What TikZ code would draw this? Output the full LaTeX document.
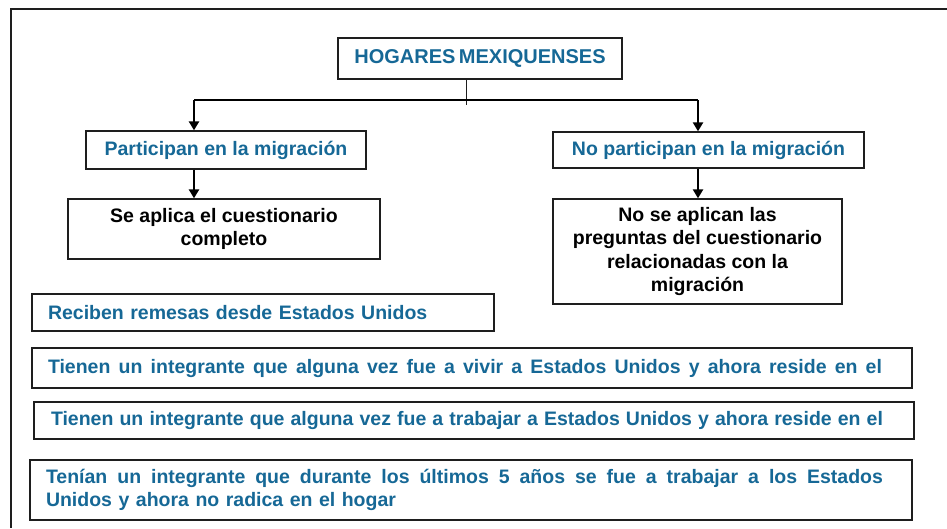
\documentclass[tikz,border=0pt]{standalone}
\usepackage{fontspec}
\setmainfont{Liberation Sans}
\usetikzlibrary{arrows.meta}
\definecolor{tblue}{RGB}{22,104,150}
\definecolor{lgray}{RGB}{30,30,30}
\begin{document}
\begin{tikzpicture}[x=1pt,y=-1pt,
  box/.style={draw=lgray,line width=1.3pt,rectangle,inner sep=0pt,font=\fontsize{19.5}{23.5}\selectfont\bfseries},
  bluebox/.style={box,text=tblue},
  blackbox/.style={box,text=black,align=center},
  listbox/.style={box,text=tblue,align=left},
  arr/.style={line width=2.6pt,-{Triangle[length=9pt,width=10pt]}},
  frame/.style={line width=1.4pt,draw=lgray}]
\useasboundingbox (0,0) rectangle (947,528);
\draw[frame] (947,9) -- (11,9) -- (11,528);
\node[bluebox,minimum width=284pt,minimum height=41pt,font=\fontsize{20}{24}\selectfont\bfseries] (hog) at (480,58.5) {HOGARES\hspace{3.5pt}MEXIQUENSES};
\node[bluebox,minimum width=280pt,minimum height=38pt] (part) at (226,150) {Participan en la migración};
\node[bluebox,minimum width=311pt,minimum height=36pt] (nopart) at (708.5,150) {No participan en la migración};
\node[blackbox,minimum width=312pt,minimum height=60pt] (seap) at (224,229) {Se aplica el cuestionario\\completo};
\node[blackbox,minimum width=289pt,minimum height=105pt] (noap) at (697.5,251.5) {No se aplican las\\preguntas del cuestionario\\relacionadas con la\\migración};
\node[listbox,minimum width=462pt,minimum height=37pt,text width=430pt,inner xsep=16pt] (rem) at (263,312.5) {Reciben remesas desde Estados Unidos};
\node[listbox,minimum height=40pt,text width=848pt,inner xsep=16pt] (viv) at (472,368) {\makebox[834pt][s]{\spaceskip=0pt\xspaceskip=0pt Tienen un integrante que alguna vez fue a vivir a Estados Unidos y ahora reside en el}};
\node[listbox,minimum height=37pt,text width=846pt,inner xsep=17pt] (trab) at (474,420.5) {\makebox[832pt][s]{\spaceskip=0pt\xspaceskip=0pt Tienen un integrante que alguna vez fue a trabajar a Estados Unidos y ahora reside en el}};
\node[listbox,minimum height=60pt,text width=850pt,inner xsep=16pt,font=\fontsize{19.5}{23}\selectfont\bfseries] (ult) at (471,490) {\makebox[837pt][s]{\spaceskip=0pt\xspaceskip=0pt Tenían un integrante que durante los últimos 5 años se fue a trabajar a los Estados}\\Unidos y ahora no radica en el hogar};
% connectors
\coordinate (stemtop) at (466,79);
\coordinate (stembot) at (466,105);
\coordinate (jl) at (194,100);
\coordinate (jr) at (698,100);
\draw[line width=1pt,draw=lgray] (stemtop) -- (stembot);
\draw[line width=2pt] (jl) -- (jr);
\draw[arr] (jl) -- (jl |- part.north);
\draw[arr] (jr) -- (jr |- nopart.north);
\draw[arr] (jl |- part.south) -- (jl |- seap.north);
\draw[arr] (jr |- nopart.south) -- (jr |- noap.north);
\end{tikzpicture}
\end{document}
